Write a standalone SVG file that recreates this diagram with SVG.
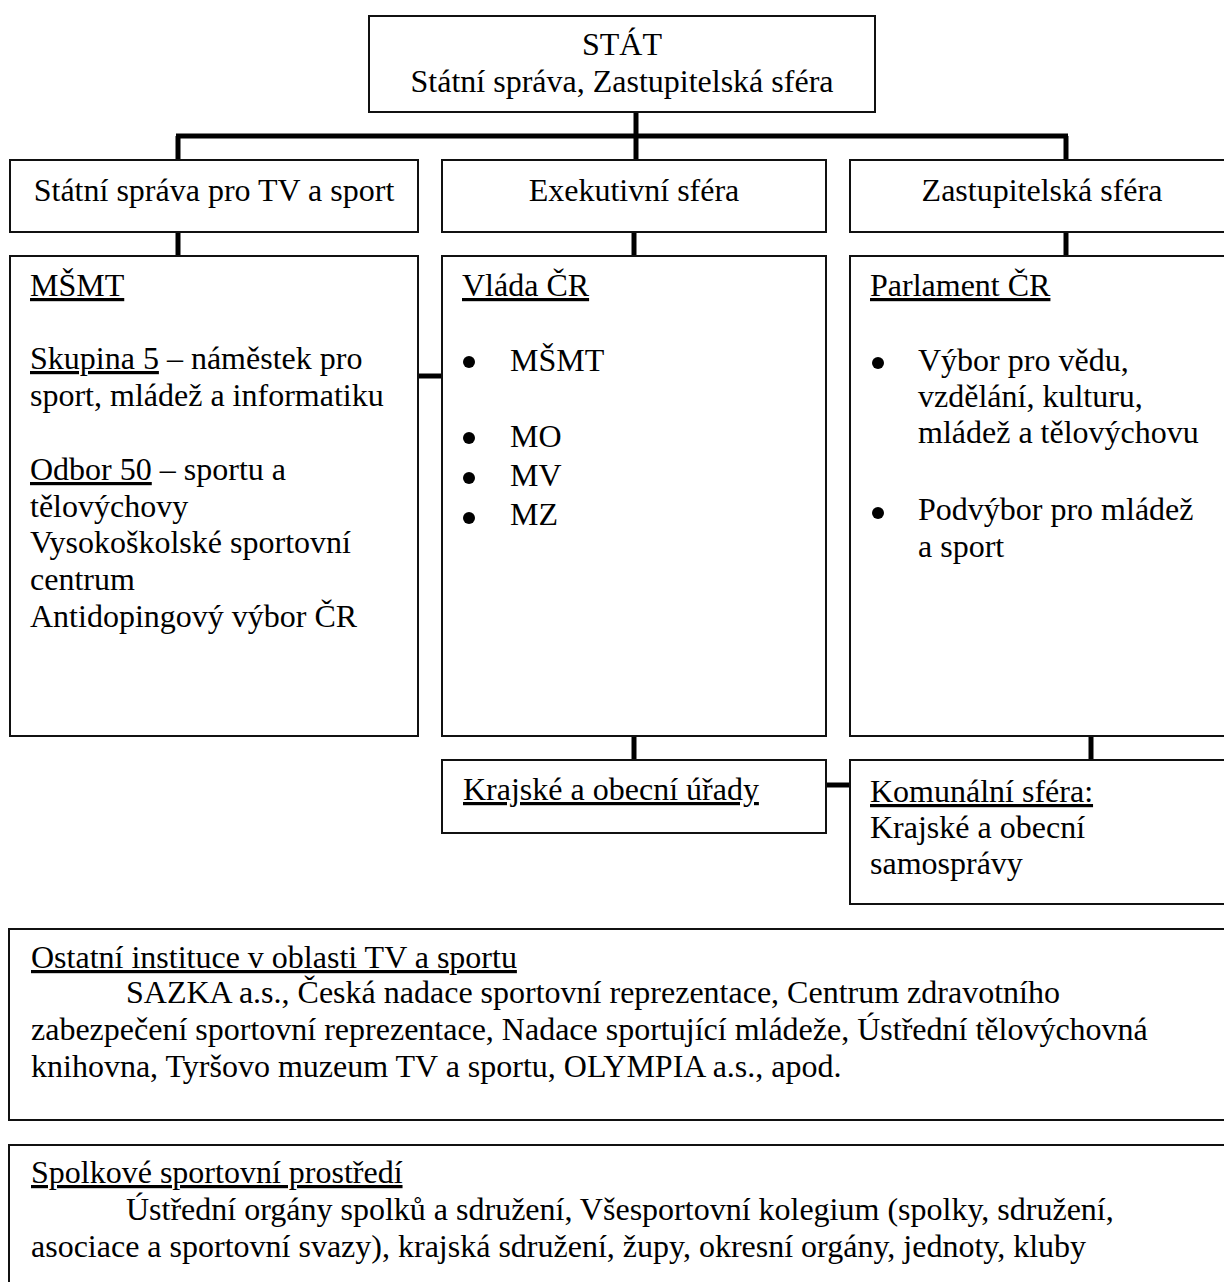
<svg xmlns="http://www.w3.org/2000/svg" width="1224" height="1282" viewBox="0 0 1224 1282">
  <style>
    .box { fill: #fff; stroke: #111; stroke-width: 2; }
    .t { font-family: "Liberation Serif", "Times New Roman", serif; font-size: 32px; fill: #000; }
    .c { text-anchor: middle; }
    .u { text-decoration: underline; }
    .conn { stroke: #000; stroke-width: 5; fill: none; }
    .bul { fill: #000; }
  </style>
  <rect x="0" y="0" width="1224" height="1282" fill="#fff"/>

  <g id="connectors">
    <line class="conn" x1="636" y1="112" x2="636" y2="160"/>
    <line class="conn" x1="176" y1="136" x2="1068" y2="136"/>
    <line class="conn" x1="178" y1="136" x2="178" y2="160"/>
    <line class="conn" x1="1066" y1="136" x2="1066" y2="160"/>
    <line class="conn" x1="178" y1="232" x2="178" y2="256"/>
    <line class="conn" x1="634" y1="232" x2="634" y2="256"/>
    <line class="conn" x1="1066" y1="232" x2="1066" y2="256"/>
    <line class="conn" x1="418" y1="376" x2="442" y2="376"/>
    <line class="conn" x1="634" y1="736" x2="634" y2="760"/>
    <line class="conn" x1="1091" y1="736" x2="1091" y2="760"/>
    <line class="conn" x1="826" y1="785" x2="850" y2="785"/>
  </g>

  <g id="stat">
    <rect class="box" x="369" y="16" width="506" height="96"/>
    <text class="t c" x="622" y="55">STÁT</text>
    <text class="t c" x="622" y="92">Státní správa, Zastupitelská sféra</text>
  </g>

  <g id="statni-sprava">
    <rect class="box" x="10" y="160" width="408" height="72"/>
    <text class="t c" x="214" y="201">Státní správa pro TV a sport</text>
  </g>

  <g id="exekutivni">
    <rect class="box" x="442" y="160" width="384" height="72"/>
    <text class="t c" x="634" y="201">Exekutivní sféra</text>
  </g>

  <g id="zastupitelska">
    <rect class="box" x="850" y="160" width="390" height="72"/>
    <text class="t c" x="1042" y="201">Zastupitelská sféra</text>
  </g>

  <g id="msmt">
    <rect class="box" x="10" y="256" width="408" height="480"/>
    <text class="t" x="30" y="296"><tspan class="u">MŠMT</tspan></text>
    <text class="t" x="30" y="369"><tspan class="u">Skupina 5</tspan> – náměstek pro</text>
    <text class="t" x="30" y="406">sport, mládež a informatiku</text>
    <text class="t" x="30" y="480"><tspan class="u">Odbor 50</tspan> – sportu a</text>
    <text class="t" x="30" y="517">tělovýchovy</text>
    <text class="t" x="30" y="553">Vysokoškolské sportovní</text>
    <text class="t" x="30" y="590">centrum</text>
    <text class="t" x="30" y="627">Antidopingový výbor ČR</text>
  </g>

  <g id="vlada">
    <rect class="box" x="442" y="256" width="384" height="480"/>
    <text class="t" x="462" y="296"><tspan class="u">Vláda ČR</tspan></text>
    <circle class="bul" cx="469" cy="362" r="6"/>
    <text class="t" x="510" y="371">MŠMT</text>
    <circle class="bul" cx="469" cy="438" r="6"/>
    <text class="t" x="510" y="447">MO</text>
    <circle class="bul" cx="469" cy="478" r="6"/>
    <text class="t" x="510" y="486">MV</text>
    <circle class="bul" cx="469" cy="518" r="6"/>
    <text class="t" x="510" y="525">MZ</text>
  </g>

  <g id="parlament">
    <rect class="box" x="850" y="256" width="390" height="480"/>
    <text class="t" x="870" y="296"><tspan class="u">Parlament ČR</tspan></text>
    <circle class="bul" cx="878" cy="363" r="6"/>
    <text class="t" x="918" y="371">Výbor pro vědu,</text>
    <text class="t" x="918" y="407">vzdělání, kulturu,</text>
    <text class="t" x="918" y="443">mládež a tělovýchovu</text>
    <circle class="bul" cx="878" cy="513" r="6"/>
    <text class="t" x="918" y="520">Podvýbor pro mládež</text>
    <text class="t" x="918" y="557">a sport</text>
  </g>

  <g id="krajske-urady">
    <rect class="box" x="442" y="760" width="384" height="73"/>
    <text class="t" x="463" y="800"><tspan class="u">Krajské a obecní úřady</tspan></text>
  </g>

  <g id="komunalni">
    <rect class="box" x="850" y="760" width="390" height="144"/>
    <text class="t" x="870" y="802"><tspan class="u">Komunální sféra:</tspan></text>
    <text class="t" x="870" y="838">Krajské a obecní</text>
    <text class="t" x="870" y="874">samosprávy</text>
  </g>

  <g id="ostatni">
    <rect class="box" x="9" y="929" width="1230" height="191"/>
    <text class="t" x="31" y="968"><tspan class="u">Ostatní instituce v oblasti TV a sportu</tspan></text>
    <text class="t" x="126" y="1003">SAZKA a.s., Česká nadace sportovní reprezentace, Centrum zdravotního</text>
    <text class="t" x="31" y="1040">zabezpečení sportovní reprezentace, Nadace sportující mládeže, Ústřední tělovýchovná</text>
    <text class="t" x="31" y="1077">knihovna, Tyršovo muzeum TV a sportu, OLYMPIA a.s., apod.</text>
  </g>

  <g id="spolkove">
    <rect class="box" x="9" y="1145" width="1230" height="160"/>
    <text class="t" x="31" y="1183"><tspan class="u">Spolkové sportovní prostředí</tspan></text>
    <text class="t" x="126" y="1220">Ústřední orgány spolků a sdružení, Všesportovní kolegium (spolky, sdružení,</text>
    <text class="t" x="31" y="1257">asociace a sportovní svazy), krajská sdružení, župy, okresní orgány, jednoty, kluby</text>
  </g>
</svg>
